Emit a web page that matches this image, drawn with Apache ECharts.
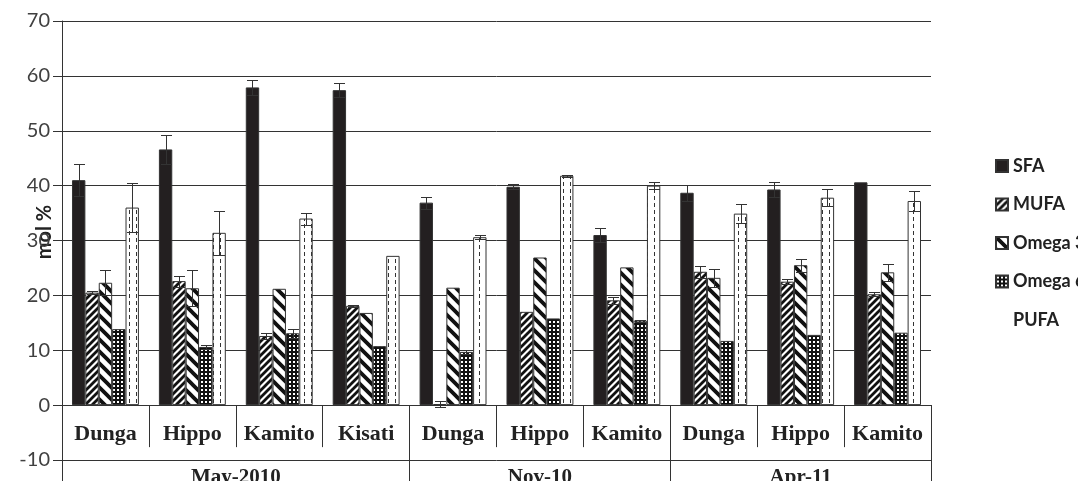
<!DOCTYPE html>
<html>
<head>
<meta charset="utf-8">
<script src="https://cdn.jsdelivr.net/npm/echarts@6/dist/echarts.min.js"></script>
<style>
  html, body { margin: 0; padding: 0; background: #fff; }
  #chart { width: 1078px; height: 481px; }
</style>
</head>
<body>
<div id="chart"></div>
<script>
// Sampling sites, grouped by sampling campaign
const stations = ['Dunga', 'Hippo', 'Kamito', 'Kisati', 'Dunga', 'Hippo', 'Kamito', 'Dunga', 'Hippo', 'Kamito'];
const campaigns = ['May-2010', 'Nov-10', 'Apr-11'];
const campaignSizes = [4, 3, 3];

// Fatty acid classes (mol %) and their standard deviations
const seriesNames = ['SFA', 'MUFA', 'Omega 3', 'Omega 6', 'PUFA'];
const sfa      = [41.0, 46.6, 57.9, 57.4, 36.9, 39.8, 31.0, 38.7, 39.3, 40.6];
const sfaErr   = [2.9, 2.6, 1.3, 1.3, 1.1, 0.5, 1.3, 1.5, 1.4, 0];
const mufa     = [20.5, 22.6, 12.6, 18.1, 0.2, 17.0, 19.1, 24.3, 22.5, 20.2];
const mufaErr  = [0.3, 1.0, 0.6, 0.2, 0.6, 0, 0.6, 1.1, 0.5, 0.4];
const omega3   = [22.3, 21.3, 21.2, 16.8, 21.4, 26.9, 25.1, 23.2, 25.5, 24.2];
const omega3Err= [2.3, 3.3, 0, 0, 0, 0, 0, 1.6, 1.2, 1.6];
const omega6   = [13.85, 10.6, 13.1, 10.75, 9.7, 15.8, 15.4, 11.7, 12.8, 13.2];
const omega6Err= [0, 0.3, 0.85, 0, 0.3, 0, 0.2, 0, 0, 0];
const pufa     = [36.0, 31.4, 34.0, 27.2, 30.6, 41.8, 40.0, 34.9, 37.8, 37.2];
const pufaErr  = [4.4, 4.0, 1.1, 0, 0.4, 0.2, 0.7, 1.7, 1.5, 1.9];

// Y axis ticks
const yMin = -10, yMax = 70, yStep = 10;

const values = [sfa, mufa, omega3, omega6, pufa];
const errors = [sfaErr, mufaErr, omega3Err, omega6Err, pufaErr];

// ---- fill patterns (monochrome print style) ----
function tile(w, h, draw) {
  const c = document.createElement('canvas');
  c.width = w; c.height = h;
  const ctx = c.getContext('2d');
  draw(ctx, w, h);
  return { image: c, repeat: 'repeat' };
}
function diag(ctx, s, lw, rising) {
  ctx.fillStyle = '#fff'; ctx.fillRect(0, 0, s, s);
  ctx.strokeStyle = '#111'; ctx.lineWidth = lw;
  ctx.beginPath();
  if (rising) {
    ctx.moveTo(-1, s + 1); ctx.lineTo(s + 1, -1);
    ctx.moveTo(-s / 2 - 1, s / 2 + 1); ctx.lineTo(s / 2 + 1, -s / 2 - 1);
    ctx.moveTo(s / 2 - 1, 1.5 * s + 1); ctx.lineTo(1.5 * s + 1, s / 2 - 1);
  } else {
    ctx.moveTo(-1, -1); ctx.lineTo(s + 1, s + 1);
    ctx.moveTo(-s / 2 - 1, s / 2 - 1); ctx.lineTo(s / 2 + 1, 1.5 * s + 1);
    ctx.moveTo(s / 2 - 1, -s / 2 - 1); ctx.lineTo(1.5 * s + 1, s / 2 + 1);
  }
  ctx.stroke();
}
const fills = [
  '#231f20',
  tile(7, 7, (ctx, w) => diag(ctx, w, 2.8, true)),
  tile(12, 12, (ctx, w) => diag(ctx, w, 3.8, false)),
  tile(4, 4, (ctx) => { ctx.fillStyle = '#111'; ctx.fillRect(0, 0, 4, 4); ctx.fillStyle = '#fff'; ctx.fillRect(1, 1, 2, 2); }),
  tile(7, 7, (ctx) => { ctx.fillStyle = '#fff'; ctx.fillRect(0, 0, 7, 7); ctx.fillStyle = '#333'; ctx.fillRect(3, 0, 1, 4); })
];

const CAT_GAP = 0.23;

// category keys stay unique even where station names repeat
const catKeys = stations.map((s, i) => i + '|' + s);

// campaign boundaries and centres on a 0..N scale
const bounds = [0];
campaignSizes.forEach(n => bounds.push(bounds[bounds.length - 1] + n));
const centres = campaignSizes.map((n, i) => bounds[i] + n / 2);

const barSeries = seriesNames.map((name, k) => ({
  name, type: 'bar', data: values[k],
  barGap: '0%', barCategoryGap: (CAT_GAP * 100) + '%',
  itemStyle: { color: fills[k], borderColor: '#333', borderWidth: 1 },
  xAxisIndex: 0, yAxisIndex: 0
}));

const errData = [];
values.forEach((arr, k) => arr.forEach((v, i) => {
  if (errors[k][i] > 0) errData.push([i, v, errors[k][i], k]);
}));

const errorSeries = {
  type: 'custom', name: 'sd', xAxisIndex: 0, yAxisIndex: 0,
  data: errData, encode: { x: 0, y: 1 }, z: 5, silent: true,
  renderItem(params, api) {
    const cat = api.value(0), v = api.value(1), e = api.value(2), k = api.value(3);
    const band = api.size([1, 0])[0];
    const bw = band * (1 - CAT_GAP) / seriesNames.length;
    const x = Math.round(api.coord([cat, 0])[0] + (k - (seriesNames.length - 1) / 2) * bw) + 0.5;
    const yHi = Math.round(api.coord([cat, v + e])[1]) + 0.5;
    const yLo = Math.round(api.coord([cat, v - e])[1]) + 0.5;
    const h = 5.5;
    const st = { stroke: '#333', lineWidth: 1 };
    return {
      type: 'group', children: [
        { type: 'line', shape: { x1: x, y1: yHi, x2: x, y2: yLo }, style: st },
        { type: 'line', shape: { x1: x - h, y1: yHi, x2: x + h, y2: yHi }, style: st },
        { type: 'line', shape: { x1: x - h, y1: yLo, x2: x + h, y2: yLo }, style: st }
      ]
    };
  }
};

const chart = echarts.init(document.getElementById('chart'), null, { renderer: 'canvas' });
const lineCol = '#333';
chart.setOption({
  animation: false,
  backgroundColor: '#fff',
  grid: { left: 62, right: 147, top: 21, bottom: 21, outerBoundsMode: 'none', containLabel: false },
  legend: {
    orient: 'vertical', left: 995, top: 157, padding: 0,
    itemWidth: 12, itemHeight: 12, itemGap: 20.5, icon: 'rect',
    textStyle: { fontFamily: 'Lato', fontWeight: 'bold', fontSize: 18, color: '#222', lineHeight: 17 },
    data: seriesNames.map(n => n === 'PUFA' ? { name: n, itemStyle: { opacity: 0 } } : { name: n })
  },
  graphic: [{
    type: 'text', x: 45, y: 232, rotation: Math.PI / 2, silent: true,
    style: { text: 'mol %', align: 'center', verticalAlign: 'middle',
             font: 'bold 20px Lato', fill: '#222' }
  }],
  xAxis: [
    {
      type: 'category', data: catKeys, position: 'bottom',
      axisLine: { onZero: true, lineStyle: { color: lineCol, width: 1 } },
      axisTick: { show: true, length: 42, lineStyle: { color: lineCol } },
      axisLabel: {
        interval: 0, margin: -37, color: '#222',
        fontFamily: 'Liberation Serif', fontWeight: 'bold', fontSize: 22,
        formatter: v => v.split('|')[1]
      },
      splitLine: { show: false }
    },
    {
      type: 'value', min: 0, max: bounds[bounds.length - 1], position: 'bottom',
      axisLine: { show: false }, splitLine: { show: false },
      axisTick: { show: true, length: 30, customValues: bounds, lineStyle: { color: lineCol } },
      axisLabel: {
        customValues: centres, margin: 7, color: '#222',
        fontFamily: 'Liberation Serif', fontWeight: 'bold', fontSize: 21,
        formatter: v => campaigns[centres.indexOf(v)] || ''
      }
    },
    {
      type: 'value', min: 0, max: bounds[bounds.length - 1], position: 'bottom',
      axisLine: { show: false }, splitLine: { show: false }, axisLabel: { show: false },
      axisTick: { show: true, inside: true, length: 55, customValues: bounds.slice(1), lineStyle: { color: lineCol } }
    }
  ],
  yAxis: {
    type: 'value', min: yMin, max: yMax, interval: yStep,
    axisLine: { show: true, lineStyle: { color: lineCol } },
    axisTick: { show: true, length: 9, lineStyle: { color: lineCol } },
    axisLabel: { fontFamily: 'Lato', fontSize: 20, color: '#404040', margin: 12 },
    splitLine: { lineStyle: { color: lineCol, width: 1 } }
  },
  series: [...barSeries, errorSeries]
});
</script>
</body>
</html>
